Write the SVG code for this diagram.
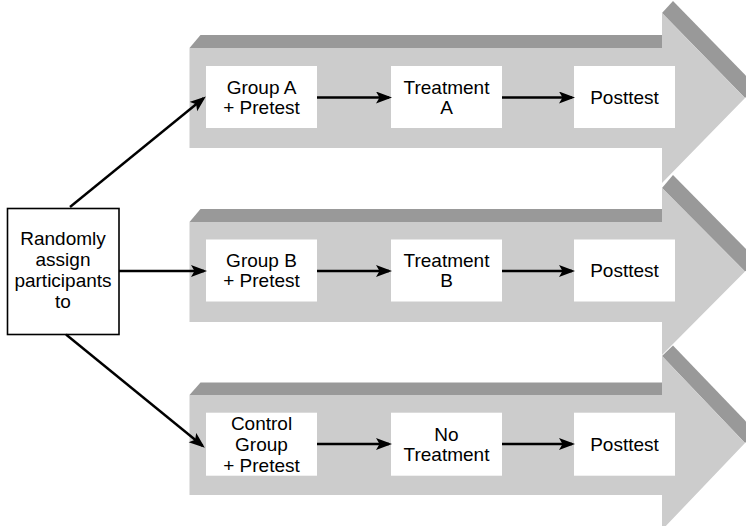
<svg xmlns="http://www.w3.org/2000/svg" width="746" height="526" viewBox="0 0 746 526">
  <defs>
    <marker id="head" markerUnits="userSpaceOnUse" markerWidth="18" markerHeight="14" refX="13" refY="6" orient="auto">
      <path d="M0,0 L16,6 L0,12 L3.5,6 z" fill="#000"/>
    </marker>
    <style>
      .front { fill: #cccccc; }
      .top { fill: #999999; }
      .box { fill: #ffffff; }
      .start { fill: #ffffff; stroke: #000; stroke-width: 1.6; }
      .label { font-family: "Liberation Sans", Arial, Helvetica, sans-serif; font-size: 19px; fill: #000; text-anchor: middle; }
      .link { stroke: #000; stroke-width: 2.4; fill: none; marker-end: url(#head); }
    </style>
  </defs>
  <rect width="746" height="526" fill="#ffffff"/>

  <!-- Block arrows (one per group lane): top face first, then front face -->
  <g id="lane-a">
    <polygon class="top" points="189.5,48 200.5,35 673,35 662,48"/>
    <polygon class="top" points="662,13 673,1 756,86 745,98"/>
    <polygon class="front" points="189.5,48 662,48 662,13 745,98 662,183 662,148 189.5,148"/>
  </g>
  <g id="lane-b">
    <polygon class="top" points="189.5,222 200.5,209 673,209 662,222"/>
    <polygon class="top" points="662,188 673,175 756,259 745,271.5"/>
    <polygon class="front" points="189.5,222 662,222 662,188 745,271.5 662,355 662,322 189.5,322"/>
  </g>
  <g id="lane-c">
    <polygon class="top" points="189.5,395 200.5,382.5 673,382.5 662,395"/>
    <polygon class="top" points="662,356 673,345.5 756,432 745,443"/>
    <polygon class="front" points="189.5,395 662,395 662,356 745,443 662,530 662,495 189.5,495"/>
  </g>

  <!-- Start node -->
  <g id="assign">
    <rect class="start" x="7.5" y="208.5" width="111.5" height="126"/>
    <text class="label" x="63" y="245">Randomly</text>
    <text class="label" x="63" y="266">assign</text>
    <text class="label" x="63" y="287">participants</text>
    <text class="label" x="63" y="308">to</text>
  </g>

  <!-- Lane A -->
  <g id="group-a">
    <rect class="box" x="206" y="66" width="111" height="62"/>
    <text class="label" x="261.5" y="93.5">Group A</text>
    <text class="label" x="261.5" y="113.5">+ Pretest</text>
  </g>
  <g id="treatment-a">
    <rect class="box" x="391" y="66" width="111" height="62"/>
    <text class="label" x="446.5" y="93.5">Treatment</text>
    <text class="label" x="446.5" y="113.5">A</text>
  </g>
  <g id="posttest-a">
    <rect class="box" x="574" y="66" width="101" height="62"/>
    <text class="label" x="624.5" y="103.8">Posttest</text>
  </g>

  <!-- Lane B -->
  <g id="group-b">
    <rect class="box" x="206" y="239.5" width="111" height="62"/>
    <text class="label" x="261.5" y="267">Group B</text>
    <text class="label" x="261.5" y="287">+ Pretest</text>
  </g>
  <g id="treatment-b">
    <rect class="box" x="391" y="239.5" width="111" height="62"/>
    <text class="label" x="446.5" y="267">Treatment</text>
    <text class="label" x="446.5" y="287">B</text>
  </g>
  <g id="posttest-b">
    <rect class="box" x="574" y="239.5" width="101" height="62"/>
    <text class="label" x="624.5" y="277.3">Posttest</text>
  </g>

  <!-- Lane C -->
  <g id="control">
    <rect class="box" x="206" y="412.7" width="111" height="63"/>
    <text class="label" x="261.5" y="430">Control</text>
    <text class="label" x="261.5" y="451">Group</text>
    <text class="label" x="261.5" y="472">+ Pretest</text>
  </g>
  <g id="no-treatment">
    <rect class="box" x="391" y="412.7" width="111" height="63"/>
    <text class="label" x="446.5" y="440.8">No</text>
    <text class="label" x="446.5" y="460.8">Treatment</text>
  </g>
  <g id="posttest-c">
    <rect class="box" x="574" y="412.7" width="101" height="63"/>
    <text class="label" x="624.5" y="451">Posttest</text>
  </g>

  <!-- Connectors -->
  <g id="connectors">
    <line class="link" x1="70" y1="207" x2="203.5" y2="98.3"/>
    <line class="link" x1="119" y1="271" x2="204" y2="271"/>
    <line class="link" x1="66" y1="334.5" x2="202.5" y2="445.8"/>
    <line class="link" x1="317" y1="97.5" x2="389" y2="97.5"/>
    <line class="link" x1="502" y1="97.5" x2="572" y2="97.5"/>
    <line class="link" x1="317" y1="271" x2="389" y2="271"/>
    <line class="link" x1="502" y1="271" x2="572" y2="271"/>
    <line class="link" x1="317" y1="444" x2="389" y2="444"/>
    <line class="link" x1="502" y1="444" x2="572" y2="444"/>
  </g>
</svg>
